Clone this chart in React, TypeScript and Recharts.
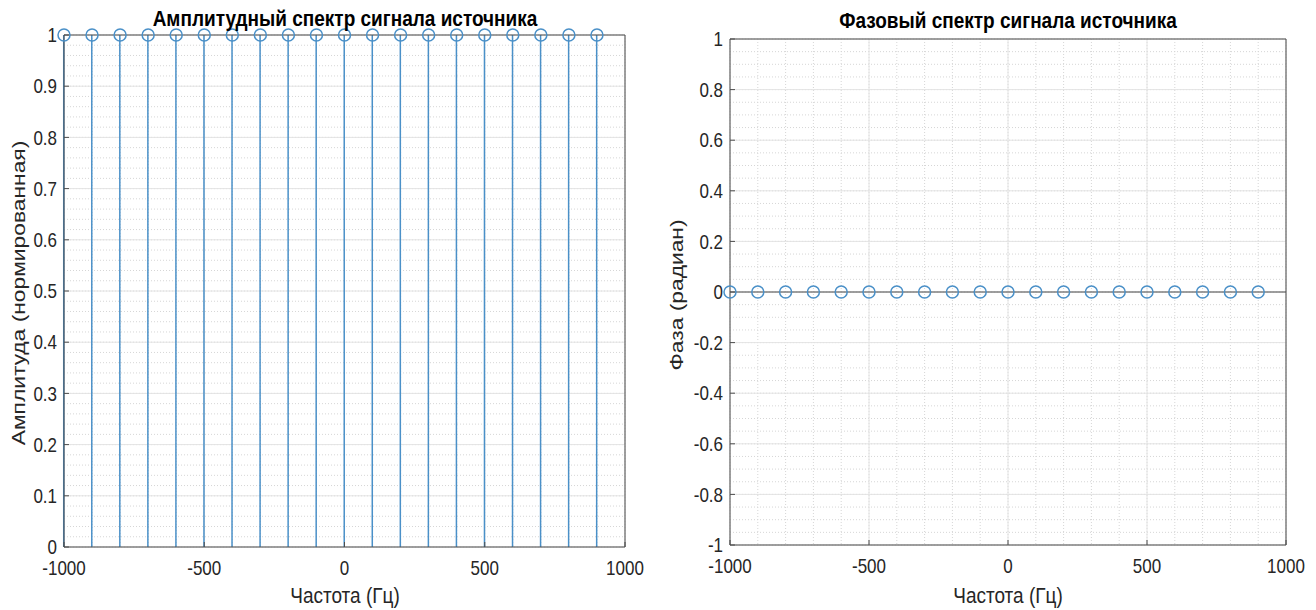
import React from "react"
import { ComposedChart, Bar, Scatter, XAxis, YAxis, CartesianGrid, ReferenceLine } from "recharts"

// частоты гармоник (Гц)
const freqs = [-1000, -900, -800, -700, -600, -500, -400, -300, -200, -100, 0, 100, 200, 300, 400, 500, 600, 700, 800, 900]
const amplitude = [1, 1, 1, 1, 1, 1, 1, 1, 1, 1, 1, 1, 1, 1, 1, 1, 1, 1, 1, 1]
const phase = [0, 0, 0, 0, 0, 0, 0, 0, 0, 0, 0, 0, 0, 0, 0, 0, 0, 0, 0, 0]

const xTicks = [-1000, -500, 0, 500, 1000]
const ampTicks = [0, 0.1, 0.2, 0.3, 0.4, 0.5, 0.6, 0.7, 0.8, 0.9, 1]
const phaseTicks = [-1, -0.8, -0.6, -0.4, -0.2, 0, 0.2, 0.4, 0.6, 0.8, 1]

const ampRows = freqs.map((f, i) => ({ f, a: amplitude[i] }))
const phaseRows = freqs.map((f, i) => ({ f, p: phase[i] }))

const minor = (from: number, to: number, step: number) => {
  const out: number[] = []
  const n = Math.round((to - from) / step)
  for (let i = 0; i <= n; i++) out.push(+(from + i * step).toFixed(4))
  return out
}
const xMinor = minor(-1000, 1000, 100)
const ampMinor = minor(0, 1, 0.02)
const phaseMinor = minor(-1, 1, 0.05)

const BLUE = "#4a90c8"
const AXIS = "#4d4d4d"
const TEXT = "#262626"
const FONT = "'Liberation Sans', Arial, sans-serif"
const SY = 1.2

const YTick = (p: any) => (
  <g transform={`translate(${p.x},${p.y}) scale(1,${SY})`}>
    <text textAnchor="end" dy="0.35em" fontSize={17} fill={TEXT} fontFamily={FONT}>
      {p.payload.value}
    </text>
  </g>
)

const XTick = (p: any) => (
  <g transform={`translate(${p.x},${p.y}) scale(1,${SY})`}>
    <text textAnchor="middle" dy="0.71em" fontSize={17} fill={TEXT} fontFamily={FONT}>
      {p.payload.value}
    </text>
  </g>
)

const Ring = (p: any) => <circle cx={p.cx} cy={p.cy} r={6} fill="none" stroke={BLUE} strokeWidth={1.5} />

const label = (left: number, top: number, text: string, opts: any = {}) => (
  <div
    style={{
      position: "absolute",
      left,
      top,
      transform: `translate(-50%,-50%) ${opts.rotate ? `rotate(-90deg) scaleX(${SY})` : `scaleY(${SY})`}`,
      whiteSpace: "nowrap",
      fontFamily: FONT,
      fontSize: 19,
      lineHeight: "22px",
      fontWeight: opts.bold ? 700 : 400,
      color: opts.bold ? "#000" : TEXT,
    }}
  >
    {text}
  </div>
)

// value -> pixel inside the plot area (linear axes)
const toY = (o: any, dom: number[], v: number) => o.top + ((dom[1] - v) / (dom[1] - dom[0])) * o.height
const toX = (o: any, dom: number[], v: number) => o.left + ((v - dom[0]) / (dom[1] - dom[0])) * o.width

function Grid({ xs, ys, xd, yd }: { xs: number[]; ys: number[]; xd: number[]; yd: number[] }) {
  return (
    <>
      <CartesianGrid
        stroke="#d6d6d6"
        strokeDasharray="1 2"
        horizontalCoordinatesGenerator={(g: any) => ys.map((v) => toY(g.offset, yd, v))}
        verticalCoordinatesGenerator={(g: any) => xs.map((v) => toX(g.offset, xd, v))}
      />
      <CartesianGrid stroke="#e4e4e4" />
    </>
  )
}

export default function App() {
  return (
    <div style={{ position: "absolute", left: 0, top: 0, width: 1316, height: 610, background: "#fff" }}>
      <div style={{ position: "absolute", left: 0, top: 0 }}>
        <ComposedChart width={660} height={610} data={ampRows} margin={{ top: 34, right: 34, left: 0, bottom: 0 }}>
          {Grid({ xs: xMinor, ys: ampMinor, xd: [-1000, 1000], yd: [0, 1] })}
          <XAxis dataKey="f" type="number" domain={[-1000, 1000]} ticks={xTicks} height={63}
            stroke={AXIS} tickSize={-5} tickMargin={19} tick={<XTick />} />
          <XAxis xAxisId="t" orientation="top" type="number" domain={[-1000, 1000]} ticks={xTicks} height={1}
            stroke={AXIS} tickSize={-5} tick={false} />
          <YAxis type="number" domain={[0, 1]} ticks={ampTicks} width={64}
            stroke={AXIS} tickSize={-5} tickMargin={12} tick={<YTick />} />
          <YAxis yAxisId="r" orientation="right" type="number" domain={[0, 1]} ticks={ampTicks} width={1}
            stroke={AXIS} tickSize={-5} tick={false} />
          <Bar dataKey="a" barSize={1.5} fill={BLUE} isAnimationActive={false} />
          <Scatter dataKey="a" shape={<Ring />} isAnimationActive={false} />
        </ComposedChart>
      </div>
      <div style={{ position: "absolute", left: 660, top: 0 }}>
        <ComposedChart width={656} height={610} data={phaseRows} margin={{ top: 38, right: 29, left: 0, bottom: 0 }}>
          {Grid({ xs: xMinor, ys: phaseMinor, xd: [-1000, 1000], yd: [-1, 1] })}
          <XAxis dataKey="f" type="number" domain={[-1000, 1000]} ticks={xTicks} height={65}
            stroke={AXIS} tickSize={-5} tickMargin={19} tick={<XTick />} />
          <XAxis xAxisId="t" orientation="top" type="number" domain={[-1000, 1000]} ticks={xTicks} height={1}
            stroke={AXIS} tickSize={-5} tick={false} />
          <YAxis type="number" domain={[-1, 1]} ticks={phaseTicks} width={70}
            stroke={AXIS} tickSize={-5} tickMargin={12} tick={<YTick />} />
          <YAxis yAxisId="r" orientation="right" type="number" domain={[-1, 1]} ticks={phaseTicks} width={1}
            stroke={AXIS} tickSize={-5} tick={false} />
          <ReferenceLine y={0} stroke={AXIS} strokeWidth={1.2} />
          <Scatter dataKey="p" shape={<Ring />} isAnimationActive={false} />
        </ComposedChart>
      </div>
      {label(345, 19, "Амплитудный спектр сигнала источника", { bold: true })}
      {label(1008, 21, "Фазовый спектр сигнала источника", { bold: true })}
      {label(345, 596, "Частота (Гц)")}
      {label(1008, 596, "Частота (Гц)")}
      {label(19, 293, "Амплитуда (нормированная)", { rotate: true })}
      {label(677, 295, "Фаза (радиан)", { rotate: true })}
    </div>
  )
}
